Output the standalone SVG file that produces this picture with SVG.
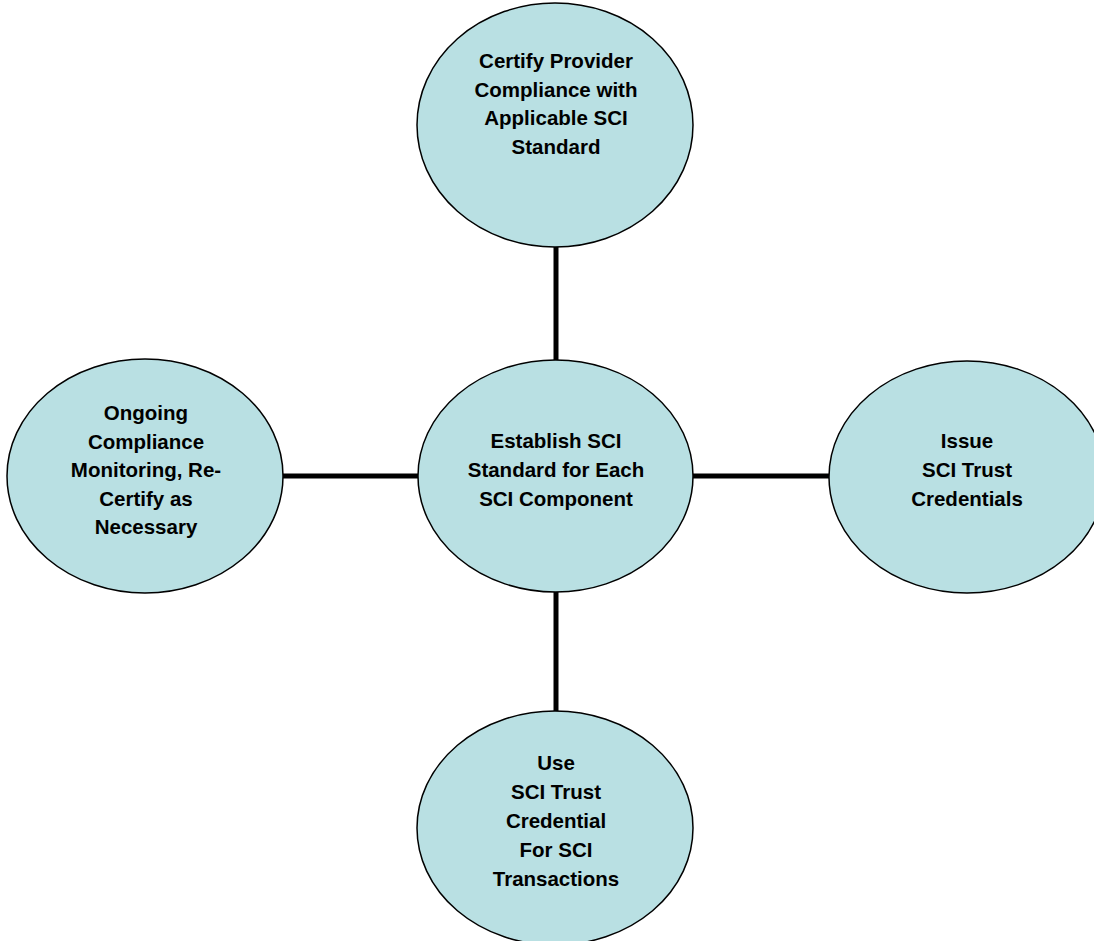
<svg xmlns="http://www.w3.org/2000/svg" width="1094" height="941" viewBox="0 0 1094 941">
<style>
.node ellipse{fill:#B9E0E3;stroke:#000;stroke-width:1.5}
.node text{font-family:"Liberation Sans",Arial,sans-serif;font-size:20.5px;font-weight:bold;fill:#000;text-anchor:middle}
.conn line{stroke:#000;stroke-width:5}
</style>
<rect width="1094" height="941" fill="#fff"/>
<g id="connectors" class="conn">
<line x1="556" y1="247" x2="556" y2="360"/>
<line x1="556" y1="592" x2="556" y2="711"/>
<line x1="283" y1="476" x2="418" y2="476"/>
<line x1="693" y1="476" x2="829" y2="476"/>
</g>
<g id="node-top" class="node">
<ellipse cx="555" cy="125" rx="138" ry="122"/>
<text x="556" y="68">Certify Provider</text>
<text x="556" y="96.5">Compliance with</text>
<text x="556" y="125">Applicable SCI</text>
<text x="556" y="153.5">Standard</text>
</g>
<g id="node-center" class="node">
<ellipse cx="555.5" cy="476" rx="137.5" ry="116"/>
<text x="556" y="448">Establish SCI</text>
<text x="556" y="477">Standard for Each</text>
<text x="556" y="505.5">SCI Component</text>
</g>
<g id="node-left" class="node">
<ellipse cx="145" cy="476" rx="138" ry="117"/>
<text x="146" y="420">Ongoing</text>
<text x="146" y="448.5">Compliance</text>
<text x="146" y="477">Monitoring, Re-</text>
<text x="146" y="505.5">Certify as</text>
<text x="146" y="534">Necessary</text>
</g>
<g id="node-right" class="node">
<ellipse cx="967" cy="477" rx="138" ry="116"/>
<text x="967" y="448">Issue</text>
<text x="967" y="477">SCI Trust</text>
<text x="967" y="505.5">Credentials</text>
</g>
<g id="node-bottom" class="node">
<ellipse cx="555" cy="828" rx="138" ry="117"/>
<text x="556" y="770">Use</text>
<text x="556" y="799">SCI Trust</text>
<text x="556" y="828">Credential</text>
<text x="556" y="857">For SCI</text>
<text x="556" y="885.5">Transactions</text>
</g>
</svg>
